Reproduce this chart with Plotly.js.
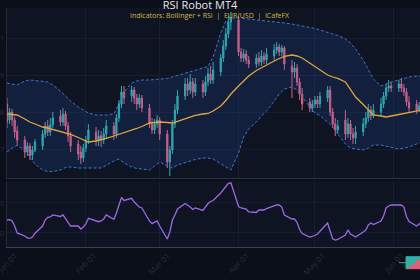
<!DOCTYPE html>
<html><head><meta charset="utf-8">
<script src="https://cdn.plot.ly/plotly-3.0.1.min.js"></script>
<style>html,body{margin:0;padding:0;background:#0b0f1a;overflow:hidden;width:420px;height:280px}#chart{width:480px;height:280px}</style>
</head><body><div id="chart"></div><script>
const dates = [
'2024-01-01','2024-01-02','2024-01-03','2024-01-04','2024-01-05',
'2024-01-08','2024-01-09','2024-01-10','2024-01-11','2024-01-12',
'2024-01-15','2024-01-16','2024-01-17','2024-01-18','2024-01-19',
'2024-01-22','2024-01-23','2024-01-24','2024-01-25','2024-01-26',
'2024-01-29','2024-01-30','2024-01-31','2024-02-01','2024-02-02',
'2024-02-05','2024-02-06','2024-02-07','2024-02-08','2024-02-09',
'2024-02-12','2024-02-13','2024-02-14','2024-02-15','2024-02-16',
'2024-02-19','2024-02-20','2024-02-21','2024-02-22','2024-02-23',
'2024-02-26','2024-02-27','2024-02-28','2024-02-29','2024-03-01',
'2024-03-04','2024-03-05','2024-03-06','2024-03-07','2024-03-08',
'2024-03-11','2024-03-12','2024-03-13','2024-03-14','2024-03-15',
'2024-03-18','2024-03-19','2024-03-20','2024-03-21','2024-03-22',
'2024-03-25','2024-03-26','2024-03-27','2024-03-28','2024-03-29',
'2024-04-01','2024-04-02','2024-04-03','2024-04-04','2024-04-05',
'2024-04-08','2024-04-09','2024-04-10','2024-04-11','2024-04-12',
'2024-04-15','2024-04-16','2024-04-17','2024-04-18','2024-04-19',
'2024-04-22','2024-04-23','2024-04-24','2024-04-25','2024-04-26',
'2024-04-29','2024-04-30','2024-05-01','2024-05-02','2024-05-03',
'2024-05-06','2024-05-07','2024-05-08','2024-05-09','2024-05-10',
'2024-05-13','2024-05-14','2024-05-15','2024-05-16','2024-05-17',
'2024-05-20','2024-05-21','2024-05-22','2024-05-23','2024-05-24',
'2024-05-27','2024-05-28','2024-05-29','2024-05-30','2024-05-31',
'2024-06-03','2024-06-04','2024-06-05','2024-06-06','2024-06-07',
'2024-06-10','2024-06-11','2024-06-12','2024-06-13','2024-06-14'];

const openP = [
1.08222,1.07790,1.08006,1.07790,1.07493, 1.07250,1.06926,1.07088,1.06845,1.06980,
1.07088,1.07412,1.07628,1.07466,1.07655, 1.07898,1.07736,1.07952,1.07628,1.07358,
1.07142,1.06926,1.06764,1.07034,1.07250, 1.07466,1.07250,1.07358,1.07250,1.07412,
1.07628,1.07412,1.07844,1.08222,1.08546, 1.08438,1.08600,1.08384,1.08222,1.08384,
1.08114,1.07682,1.07520,1.07682,1.07790, 1.07412,1.06656,1.06980,1.07682,1.08060,
1.08438,1.08762,1.08600,1.08816,1.08546, 1.08762,1.08546,1.08816,1.09032,1.08870,
1.09086,1.09464,1.09788,1.10112,1.10436, 1.10490,1.09626,1.09464,1.09572,1.09410,
1.09302,1.09464,1.09356,1.09518,1.09410, 1.09518,1.09680,1.09761,1.09626,1.09734,
1.09248,1.09086,1.09194,1.08816,1.08492, 1.08276,1.08114,1.08222,1.08330,1.08222,
1.08384,1.08600,1.08006,1.07682,1.07520, 1.07790,1.07412,1.07682,1.07412,1.07304,
1.07466,1.07682,1.07844,1.08060,1.07898, 1.08006,1.08222,1.08438,1.08654,1.08708,
1.08654,1.08762,1.08654,1.08546,1.08276, 1.08222,1.08060,1.08168,1.08276,1.08168];
const highP = [
1.08384,1.08114,1.08087,1.07871,1.07628, 1.07358,1.07196,1.07169,1.07088,1.07277,
1.07520,1.07736,1.07790,1.07844,1.08006, 1.08060,1.08114,1.08033,1.07736,1.07466,
1.07250,1.07088,1.07142,1.07358,1.07682, 1.07601,1.07520,1.07493,1.07574,1.07790,
1.07736,1.07952,1.08330,1.08708,1.08708, 1.08708,1.08681,1.08492,1.08492,1.08465,
1.08222,1.07844,1.07817,1.07925,1.07871, 1.07520,1.07088,1.07790,1.08222,1.08600,
1.08924,1.08924,1.09032,1.08924,1.08924, 1.08870,1.08978,1.09194,1.09248,1.09356,
1.09572,1.09950,1.10274,1.10598,1.10706, 1.10598,1.09734,1.09707,1.09680,1.09518,
1.09572,1.09626,1.09680,1.09626,1.09734, 1.09842,1.09896,1.09842,1.09815,1.09788,
1.09410,1.09356,1.09302,1.08924,1.08654, 1.08384,1.08330,1.08438,1.08438,1.08546,
1.08708,1.08708,1.08114,1.07844,1.07790, 1.08060,1.07844,1.07790,1.07574,1.07628,
1.07844,1.08006,1.08222,1.08168,1.08222, 1.08384,1.08546,1.08762,1.08870,1.08816,
1.08870,1.08924,1.08762,1.08654,1.08438, 1.08330,1.08276,1.08384,1.08384,1.08438];
const lowP = [
1.07574,1.07682,1.07628,1.07304,1.07088, 1.06764,1.06818,1.06710,1.06710,1.06926,
1.06980,1.07304,1.07358,1.07358,1.07574, 1.07628,1.07628,1.07520,1.07196,1.06926,
1.06710,1.06602,1.06656,1.06926,1.07142, 1.07088,1.07088,1.07061,1.07142,1.07304,
1.07250,1.07304,1.07736,1.08114,1.08222, 1.08276,1.08222,1.08060,1.08114,1.08006,
1.07574,1.07412,1.07412,1.07574,1.07250, 1.06494,1.06278,1.06872,1.07574,1.07952,
1.08330,1.08438,1.08492,1.08384,1.08438, 1.08384,1.08438,1.08708,1.08762,1.08762,
1.08978,1.09356,1.09680,1.10004,1.10220, 1.09518,1.09356,1.09356,1.09302,1.09194,
1.09194,1.09248,1.09248,1.09302,1.09302, 1.09410,1.09572,1.09518,1.09518,1.09140,
1.08384,1.08924,1.08708,1.08330,1.08060, 1.08006,1.08006,1.08114,1.08114,1.08114,
1.08276,1.07898,1.07574,1.07358,1.07412, 1.07250,1.07304,1.07250,1.07142,1.07142,
1.07358,1.07574,1.07736,1.07790,1.07844, 1.07898,1.08114,1.08330,1.08546,1.08546,
1.08546,1.08546,1.08438,1.08168,1.08006, 1.07952,1.08006,1.08060,1.08060,1.08060];
const closeP = [
1.07736,1.08006,1.07790,1.07466,1.07250, 1.06926,1.07088,1.06818,1.06980,1.07196,
1.07412,1.07628,1.07466,1.07655,1.07844, 1.07736,1.07952,1.07628,1.07358,1.07088,
1.06872,1.06764,1.07034,1.07250,1.07520, 1.07250,1.07358,1.07250,1.07412,1.07628,
1.07412,1.07844,1.08222,1.08546,1.08384, 1.08600,1.08384,1.08222,1.08384,1.08114,
1.07682,1.07520,1.07682,1.07790,1.07412, 1.06656,1.06980,1.07682,1.08060,1.08438,
1.08762,1.08600,1.08816,1.08546,1.08762, 1.08546,1.08816,1.09032,1.08870,1.09140,
1.09464,1.09788,1.10112,1.10436,1.10544, 1.09626,1.09464,1.09572,1.09410,1.09302,
1.09464,1.09356,1.09518,1.09410,1.09572, 1.09680,1.09761,1.09626,1.09734,1.09302,
1.09086,1.09194,1.08816,1.08492,1.08222, 1.08114,1.08222,1.08330,1.08222,1.08438,
1.08600,1.08006,1.07682,1.07520,1.07628, 1.07412,1.07682,1.07412,1.07304,1.07466,
1.07682,1.07844,1.08060,1.07898,1.08060, 1.08222,1.08438,1.08654,1.08708,1.08654,
1.08762,1.08654,1.08546,1.08276,1.08114, 1.08060,1.08168,1.08276,1.08168,1.08330];

const bandDates = [
'2024-01-01','2024-01-03','2024-01-05','2024-01-08','2024-01-10','2024-01-12',
'2024-01-15','2024-01-17','2024-01-19','2024-01-22','2024-01-24','2024-01-26',
'2024-01-29','2024-01-31','2024-02-02','2024-02-05','2024-02-07','2024-02-09',
'2024-02-12','2024-02-14','2024-02-16','2024-02-19','2024-02-21','2024-02-23',
'2024-02-26','2024-02-28','2024-03-01','2024-03-04','2024-03-06','2024-03-08',
'2024-03-11','2024-03-13','2024-03-15','2024-03-18','2024-03-20','2024-03-22',
'2024-03-25','2024-03-27','2024-03-29','2024-04-01','2024-04-03','2024-04-05',
'2024-04-08','2024-04-10','2024-04-12','2024-04-15','2024-04-17','2024-04-19',
'2024-04-22','2024-04-24','2024-04-26','2024-04-29','2024-05-01','2024-05-03',
'2024-05-06','2024-05-08','2024-05-10','2024-05-13','2024-05-15','2024-05-17',
'2024-05-20','2024-05-22','2024-05-24','2024-05-27','2024-05-29','2024-05-31',
'2024-06-03','2024-06-05','2024-06-07','2024-06-10','2024-06-12','2024-06-14'];
const bbUpper = [
1.08789,1.08762,1.08735, 1.08843,1.08870,1.08857, 1.08843,1.08816,1.08735,
1.08573,1.08438,1.08303, 1.08141,1.08060,1.07979, 1.07925,1.07925,1.07925,
1.07952,1.08222,1.08546, 1.08789,1.08843,1.08870, 1.08870,1.08884,1.08897,
1.08911,1.08951,1.08992, 1.09046,1.09086,1.09140, 1.09194,1.09235,1.09491,
1.10139,1.10463,1.10544, 1.10544,1.10531,1.10517, 1.10490,1.10477,1.10463,
1.10436,1.10423,1.10409, 1.10382,1.10355,1.10328, 1.10301,1.10261,1.10220,
1.10166,1.10112,1.10072, 1.09977,1.09869,1.09707, 1.09410,1.09167,1.08897,
1.08708,1.08762,1.08816, 1.08870,1.08911,1.08951, 1.08978,1.08978,1.08978];
const bbMid = [
1.07952,1.07939,1.07925, 1.07817,1.07736,1.07682, 1.07601,1.07574,1.07534,
1.07493,1.07453,1.07399, 1.07318,1.07250,1.07196, 1.07223,1.07250,1.07291,
1.07358,1.07399,1.07453, 1.07507,1.07561,1.07615, 1.07709,1.07723,1.07736,
1.07723,1.07709,1.07750, 1.07817,1.07871,1.07912, 1.07952,1.07966,1.08033,
1.08168,1.08317,1.08492, 1.08708,1.08843,1.08978, 1.09127,1.09194,1.09262,
1.09383,1.09451,1.09505, 1.09545,1.09518,1.09464, 1.09329,1.09235,1.09140,
1.09005,1.08951,1.08911, 1.08816,1.08627,1.08411, 1.08209,1.08060,1.07925,
1.07898,1.07871,1.07898, 1.07939,1.07979,1.08006, 1.08047,1.08060,1.08060];
const bbLower = [
1.06926,1.07034,1.07102, 1.06980,1.06791,1.06602, 1.06440,1.06400,1.06400,
1.06440,1.06508,1.06521, 1.06494,1.06494,1.06494, 1.06494,1.06494,1.06562,
1.06683,1.06737,1.06629, 1.06521,1.06481,1.06467, 1.06440,1.06548,1.06656,
1.06548,1.06494,1.06575, 1.06643,1.06683,1.06724, 1.06764,1.06764,1.06737,
1.06616,1.06521,1.06440, 1.06899,1.07331,1.07547, 1.07736,1.07898,1.08033,
1.08303,1.08492,1.08627, 1.08681,1.08600,1.08411, 1.08141,1.07979,1.07912,
1.07736,1.07601,1.07412, 1.07142,1.07034,1.07007, 1.06980,1.07034,1.07115,
1.07115,1.07088,1.07048, 1.07007,1.07034,1.07061, 1.07142,1.07196,1.07223];

const rsi = [
47.3,47.7,46.0,39.3,30.0, 26.0,23.3,22.9,24.6,29.6,
39.3,47.3,50.9,51.3,54.0, 52.0,54.0,49.3,44.6,39.3,
39.3,35.3,38.0,42.0,49.6, 45.6,45.0,46.0,48.6,54.0,
48.2,56.6,67.3,77.3,73.3, 76.2,71.3,67.3,64.6,63.3,
46.0,42.4,44.6,46.0,39.3, 22.0,31.3,47.3,54.0,62.0,
69.3,67.3,64.6,61.3,63.3, 60.0,64.6,69.3,72.0,73.3,
83.3,87.3,91.3,96.2,96.9, 65.3,63.3,62.2,61.7,58.0,
57.3,60.6,60.6,60.6,62.6, 66.0,67.3,67.3,64.6,54.0,
48.6,48.6,44.0,34.6,29.3, 24.6,25.2,26.6,28.6,32.6,
43.3,32.6,22.2,20.6,21.3, 27.3,34.0,28.6,26.0,24.6,
31.3,34.0,40.6,43.3,41.3, 46.0,52.6,63.3,66.0,67.3,
67.3,67.3,64.6,52.0,45.3, 39.3,42.0,44.6,47.3,50.0];

const rsiTicks = [30, 70];

const bandLine = {color:'#3f74d0', width:1, dash:'3px,2px'};
const traces = [
  {type:'scatter', mode:'lines', x:bandDates, y:bbUpper, name:'BB Upper', line:bandLine, showlegend:false, hoverinfo:'skip'},
  {type:'scatter', mode:'lines', x:bandDates, y:bbLower, name:'BB Lower', line:bandLine, fill:'tonexty', fillcolor:'rgba(45,100,230,0.15)', showlegend:false, hoverinfo:'skip'},
  {type:'scatter', mode:'lines', x:bandDates, y:bbMid, name:'SMA 20', line:{color:'#e2a53c', width:1.3}, showlegend:false, hoverinfo:'skip'},
  {type:'candlestick', x:dates, open:openP, high:highP, low:lowP, close:closeP, name:'EUR/USD',
   increasing:{line:{color:'#2fb3a6', width:1}, fillcolor:'#2fb3a6'},
   decreasing:{line:{color:'#e0607a', width:1}, fillcolor:'#e0607a'},
   whiskerwidth:0, showlegend:true, hoverinfo:'skip'},
  {type:'scatter', mode:'lines', x:dates, y:rsi, name:'RSI 14', xaxis:'x2', yaxis:'y2', line:{color:'#a067e6', width:1.3}, showlegend:false, hoverinfo:'skip'}
];

const gridC = '#171e2c';
const layout = {
  width:480, height:280,
  margin:{l:7, r:0, t:8, b:33, autoexpand:false},
  paper_bgcolor:'#0b0f1a', plot_bgcolor:'#0e1421',
  font:{family:'Open Sans, sans-serif', color:'#c8ccd4', size:9},
  title:{text:'RSI Robot MT4', x:200/480, xanchor:'center', xref:'container', y:1-5/280, yanchor:'middle', yref:'container', font:{size:11, color:'#e8e8ea'}},
  annotations:[{text:'Indicators: Bollinger + RSI  |  EUR/USD  |  ICafeFX', xref:'paper', yref:'paper', x:(210-7)/473, y:1+(8-15.5)/239, xanchor:'center', yanchor:'middle', showarrow:false, font:{size:7, color:'#d4b84a'}}],
  showlegend:true,
  legend:{orientation:'h', x:(394-7)/473, xanchor:'left', y:-0.005, yanchor:'top', font:{size:9, color:'#c8ccd4'}, bgcolor:'rgba(0,0,0,0)'},
  xaxis:{type:'date', domain:[0,1], anchor:'y', range:['2024-01-01','2024-07-04 21:30'], rangeslider:{visible:false},
    showticklabels:false, dtick:'M1', tick0:'2024-01-01', gridcolor:gridC, showline:true, linecolor:'#2a3242', linewidth:1, zeroline:false},
  xaxis2:{type:'date', domain:[0,1], anchor:'y2', matches:'x', range:['2024-01-01','2024-07-04 21:30'],
    dtick:'M1', tick0:'2024-01-01', tickformat:'%b %d', tickangle:-45, ticklabelshift:8, ticklabeloverflow:'allow',
    tickfont:{size:8, color:'#272e3d'},
    gridcolor:gridC, showline:true, linecolor:'#384052', linewidth:1, zeroline:false},
  yaxis:{domain:[(247-178)/239, 1], anchor:'x', range:[1.06224, 1.10814], dtick:0.01, tick0:1.07,
    tickfont:{size:8, color:'#262d3c'}, gridcolor:gridC, showline:true, linecolor:'#232a39', zeroline:false},
  yaxis2:{domain:[0, (247-181)/239], anchor:'x2', range:[11.3, 99.3], tickvals:rsiTicks,
    tickfont:{size:8, color:'#262d3c'}, gridcolor:gridC, showline:true, linecolor:'#232a39', zeroline:false}
};
Plotly.newPlot('chart', traces, layout, {staticPlot:true, displayModeBar:false});
</script></body></html>
